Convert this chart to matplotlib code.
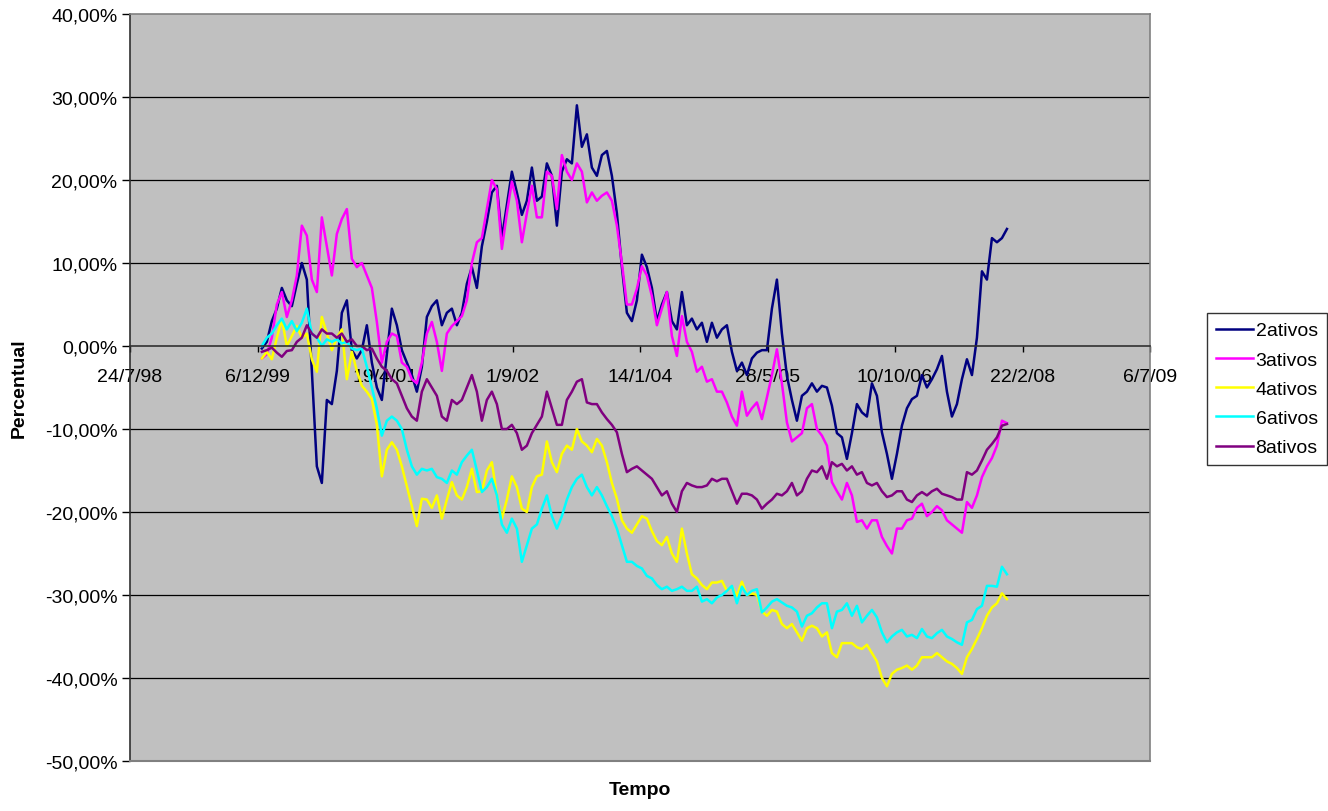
import matplotlib
matplotlib.use("Agg")
import matplotlib.pyplot as plt
import pandas as pd
from matplotlib.ticker import FuncFormatter

plt.rcParams["font.family"] = ["Liberation Sans", "DejaVu Sans"]

# Observation dates (regular sampling of the daily series)
dates = pd.date_range("1999-12-23", "2007-12-23", periods=150)

# Accumulated return of each portfolio, in percent
ret_2ativos = [
    -0.3, 0.5, 3.0, 4.5, 7.0, 5.5, 4.8, 7.5, 10.0, 8.0,
    -3.0, -14.5, -16.5, -6.5, -7.0, -3.0, 4.0, 5.5, -0.5, -1.5,
    -0.5, 2.5, -2.0, -5.0, -6.5, -1.0, 4.5, 2.5, -0.5, -2.0,
    -3.5, -5.5, -2.5, 3.5, 4.8, 5.5, 2.5, 4.0, 4.5, 2.5,
    4.0, 7.5, 9.5, 7.0, 12.0, 15.0, 18.5, 19.3, 13.0, 17.0,
    21.0, 18.5, 15.8, 17.5, 21.5, 17.5, 18.0, 22.0, 20.5, 14.5,
    21.0, 22.5, 22.0, 29.0, 24.0, 25.5, 21.5, 20.5, 23.0, 23.5,
    20.5, 16.0, 9.5, 4.0, 3.0, 5.5, 11.0, 9.5, 7.0, 3.0,
    5.0, 6.5, 3.0, 2.0, 6.5, 2.5, 3.3, 2.0, 2.8, 0.5,
    2.8, 1.0, 2.0, 2.5, -0.7, -3.0, -2.0, -3.5, -1.5, -0.8,
    -0.5, -0.5, 4.5, 8.0, 1.5, -3.6, -6.5, -9.0, -6.0, -5.5,
    -4.5, -5.5, -4.8, -5.0, -7.2, -10.5, -11.0, -13.6, -10.5, -7.0,
    -8.0, -8.5, -4.5, -6.0, -10.4, -13.0, -16.0, -13.0, -9.6, -7.5,
    -6.4, -6.0, -3.5, -5.0, -4.0, -2.8, -1.2, -5.5, -8.5, -7.0,
    -4.0, -1.6, -3.5, 1.0, 9.0, 8.0, 13.0, 12.5, 13.0, 14.1,
]

ret_3ativos = [
    -1.5, -1.0, 1.0, 5.0, 6.5, 3.5, 5.5, 8.5, 14.5, 13.3,
    8.0, 6.5, 15.5, 12.0, 8.5, 13.5, 15.3, 16.5, 10.5, 9.5,
    10.0, 8.5, 7.0, 2.9, -2.0, 0.5, 1.5, 1.2, -2.0, -2.5,
    -4.0, -4.5, -2.0, 1.5, 2.9, 0.5, -3.0, 1.5, 2.4, 3.0,
    3.6, 5.5, 10.0, 12.5, 13.0, 16.5, 20.0, 18.9, 11.7, 16.0,
    19.8, 17.5, 12.5, 16.0, 19.3, 15.5, 15.5, 21.0, 20.5, 16.5,
    23.0, 21.0, 20.0, 22.0, 21.0, 17.3, 18.5, 17.5, 18.1, 18.5,
    17.5, 14.5, 10.0, 5.0, 5.0, 6.9, 9.6, 8.5, 6.0, 2.5,
    4.5, 6.5, 1.2, -1.2, 3.6, 0.5, -0.7, -3.1, -2.5, -4.3,
    -4.0, -5.5, -5.5, -6.8, -8.5, -9.6, -5.5, -8.4, -7.5, -6.8,
    -8.8, -6.2, -3.5, -0.4, -4.5, -9.2, -11.5, -11.0, -10.5, -7.5,
    -7.0, -10.0, -10.8, -12.0, -16.4, -17.5, -18.5, -16.5, -18.0, -21.2,
    -21.0, -22.0, -21.0, -21.0, -23.0, -24.1, -25.0, -22.0, -22.0, -21.0,
    -20.8, -19.5, -19.0, -20.5, -20.0, -19.3, -19.8, -21.0, -21.5, -22.0,
    -22.5, -18.8, -19.5, -18.0, -15.8, -14.5, -13.5, -12.0, -9.0, -9.3,
]

ret_4ativos = [
    -1.5, -0.7, -1.6, 1.0, 3.2, 0.0, 1.2, 2.4, 1.0, 1.5,
    -1.6, -3.1, 3.5, 1.5, -0.5, 1.0, 2.0, -4.0, -0.7, -3.0,
    -4.8, -5.5, -6.4, -9.5, -15.7, -12.5, -11.6, -12.5, -14.5, -16.9,
    -19.3, -21.7, -18.4, -18.5, -19.5, -18.0, -20.8, -18.5, -16.4, -18.0,
    -18.5, -17.0, -14.8, -17.6, -17.5, -15.0, -14.0, -18.0, -20.8, -18.5,
    -15.7, -17.0, -19.6, -20.0, -17.0, -15.7, -15.5, -11.5, -14.0, -15.2,
    -13.0, -12.0, -12.5, -10.0, -11.5, -12.0, -12.8, -11.2, -12.0, -14.0,
    -16.5, -18.4, -21.0, -22.0, -22.5, -21.5, -20.5, -20.8, -22.3, -23.5,
    -24.0, -23.0, -25.0, -26.0, -22.0, -25.0, -27.5, -28.0, -28.8, -29.3,
    -28.5, -28.5, -28.3, -29.5, -29.0, -30.1, -28.4, -30.0, -29.8, -30.0,
    -32.0, -32.5, -31.8, -32.0, -33.5, -34.0, -33.5, -34.5, -35.5, -34.0,
    -33.7, -34.0, -35.0, -34.5, -37.0, -37.5, -35.8, -35.8, -35.8, -36.3,
    -36.5, -36.0, -37.0, -38.0, -40.0, -41.0, -39.5, -39.0, -38.8, -38.5,
    -39.0, -38.5, -37.5, -37.5, -37.5, -37.0, -37.5, -38.0, -38.3, -38.8,
    -39.5, -37.5, -36.5, -35.3, -34.0, -32.5, -31.5, -31.0, -29.8, -30.5,
]

ret_6ativos = [
    0.0, 1.0, 1.5, 2.5, 3.3, 2.0, 3.0, 1.8, 2.8, 4.5,
    1.5, 1.0, 0.0, 0.8, 0.5, 0.8, 0.3, 0.5, -0.3, -0.5,
    -0.3, -2.5, -5.0, -7.5, -10.8, -9.0, -8.5, -9.0, -10.0, -12.5,
    -14.5, -15.5, -14.8, -15.0, -14.8, -15.8, -16.0, -16.5, -15.0, -15.5,
    -14.0, -13.2, -12.5, -15.0, -17.6, -17.0, -16.0, -18.0, -21.5, -22.5,
    -20.8, -22.0, -26.0, -24.0, -22.0, -21.5, -19.6, -18.0, -20.5, -22.0,
    -20.5, -18.5, -17.0, -16.0, -15.5, -17.0, -18.0, -17.0, -18.0, -19.3,
    -20.5, -22.0, -24.0, -26.0, -26.0, -26.5, -26.8, -27.7, -28.0, -28.8,
    -29.3, -29.0, -29.5, -29.3, -29.0, -29.5, -29.5, -29.0, -30.8, -30.5,
    -31.0, -30.3, -30.0, -29.5, -28.9, -31.0, -29.0, -30.0, -29.5, -29.3,
    -32.1, -31.5, -30.8, -30.5, -30.9, -31.3, -31.5, -32.0, -33.8, -32.5,
    -32.2, -31.5, -31.0, -31.0, -34.0, -32.0, -31.8, -31.0, -32.5, -31.3,
    -33.3, -32.5, -31.8, -32.7, -34.5, -35.7, -35.0, -34.5, -34.2, -35.0,
    -34.8, -35.2, -34.1, -35.0, -35.2, -34.6, -34.2, -35.0, -35.3, -35.7,
    -36.0, -33.3, -33.0, -31.7, -31.3, -28.9, -28.9, -29.0, -26.6, -27.5,
]

ret_8ativos = [
    -0.7, -0.5, -0.2, -0.8, -1.3, -0.6, -0.5, 0.5, 1.0, 2.5,
    1.5, 1.0, 2.0, 1.5, 1.5, 1.0, 1.5, 0.5, 0.8, 0.0,
    0.0, -0.5, -0.3, -1.5, -2.5, -3.0, -4.0, -4.5, -6.0, -7.5,
    -8.5, -9.0, -5.5, -4.0, -5.0, -6.0, -8.5, -9.0, -6.5, -7.0,
    -6.5, -5.0, -3.5, -5.5, -9.0, -6.5, -5.5, -7.0, -10.0, -10.0,
    -9.5, -10.5, -12.5, -12.0, -10.5, -9.5, -8.5, -5.5, -7.5, -9.5,
    -9.5, -6.5, -5.5, -4.3, -4.0, -6.8, -7.0, -7.0, -8.0, -8.8,
    -9.5, -10.4, -13.0, -15.2, -14.8, -14.5, -15.0, -15.5, -16.0, -17.0,
    -18.0, -17.5, -19.0, -20.0, -17.5, -16.5, -16.8, -17.0, -17.0, -16.8,
    -16.0, -16.3, -16.0, -16.0, -17.5, -19.0, -17.8, -17.8, -18.0, -18.5,
    -19.6, -19.0, -18.5, -17.8, -18.0, -17.5, -16.5, -18.0, -17.5, -16.0,
    -15.0, -15.2, -14.5, -16.0, -14.0, -14.5, -14.2, -15.0, -14.5, -15.5,
    -15.2, -16.5, -16.8, -16.5, -17.5, -18.2, -18.0, -17.5, -17.5, -18.5,
    -18.8, -18.0, -17.6, -18.0, -17.5, -17.2, -17.8, -18.0, -18.2, -18.5,
    -18.5, -15.2, -15.5, -15.0, -13.8, -12.5, -11.8, -11.0, -9.6, -9.4,
]

series_names = ["2ativos", "3ativos", "4ativos", "6ativos", "8ativos"]
series_values = [ret_2ativos, ret_3ativos, ret_4ativos, ret_6ativos, ret_8ativos]
series_colors = ["#000080", "#FF00FF", "#FFFF00", "#00FFFF", "#800080"]

x_tick_labels = ["24/7/98", "6/12/99", "19/4/01", "1/9/02", "14/1/04",
                 "28/5/05", "10/10/06", "22/2/08", "6/7/09"]
y_ticks = [-50, -40, -30, -20, -10, 0, 10, 20, 30, 40]

x_tick_dates = pd.to_datetime(x_tick_labels, format="%d/%m/%y")

FS = 14

fig = plt.figure(figsize=(13.28, 8.12), dpi=100)
ax = fig.add_axes([130 / 1328, 1 - 762 / 812, 1020 / 1328, 747 / 812])
ax.set_facecolor("#C0C0C0")

# horizontal gridlines beneath the data
for v in y_ticks:
    if v not in (0, y_ticks[0], y_ticks[-1]):
        ax.axhline(v, color="#000000", lw=0.9, zorder=1)

for name, vals, col in zip(series_names, series_values, series_colors):
    ax.plot(dates, vals, color=col, lw=1.8, label=name, zorder=2)

ax.set_xlim(x_tick_dates[0], x_tick_dates[-1])
ax.set_ylim(y_ticks[0], y_ticks[-1])

ax.set_yticks(y_ticks)
ax.yaxis.set_major_formatter(FuncFormatter(lambda v, p: f"{v:.2f}%".replace(".", ",")))
ax.set_xticks(x_tick_dates)
ax.set_xticklabels(x_tick_labels)

# category axis crosses the value axis at zero
ax.spines["bottom"].set_position(("data", 0))
ax.spines["bottom"].set_color("#303030")
ax.spines["bottom"].set_linewidth(1.2)
ax.spines["left"].set_color("#303030")
ax.spines["left"].set_linewidth(1.2)
for s in ("top", "right"):
    ax.spines[s].set_color("#808080")
    ax.spines[s].set_linewidth(1.2)
ax.axhline(y_ticks[0], color="#808080", lw=1.5, zorder=3, clip_on=False)

ax.tick_params(axis="y", direction="out", length=6, width=1, pad=3,
               labelsize=FS, colors="#000000")
ax.tick_params(axis="x", direction="out", length=4, width=1, pad=12,
               labelsize=FS, colors="#000000")

ax.set_ylabel("Percentual", fontsize=FS, fontweight="bold")
ax.yaxis.set_label_coords(-0.100, 0.5)
ax.set_xlabel("Tempo", fontsize=FS, fontweight="bold")
ax.xaxis.set_label_coords(0.5, -0.027)
ax.xaxis.label.set_va("top")

leg = ax.legend(loc="upper left", bbox_to_anchor=(1207 / 1328, 1 - 314 / 812),
                bbox_transform=fig.transFigure, fancybox=False, frameon=True,
                edgecolor="#000000", fontsize=FS, handlelength=1.9,
                handletextpad=0.15, labelspacing=0.6, borderpad=0.45,
                borderaxespad=0)
leg.get_frame().set_linewidth(1.0)
for line in leg.get_lines():
    line.set_linewidth(1.8)

fig.savefig("out.png", dpi=100, facecolor="white")
